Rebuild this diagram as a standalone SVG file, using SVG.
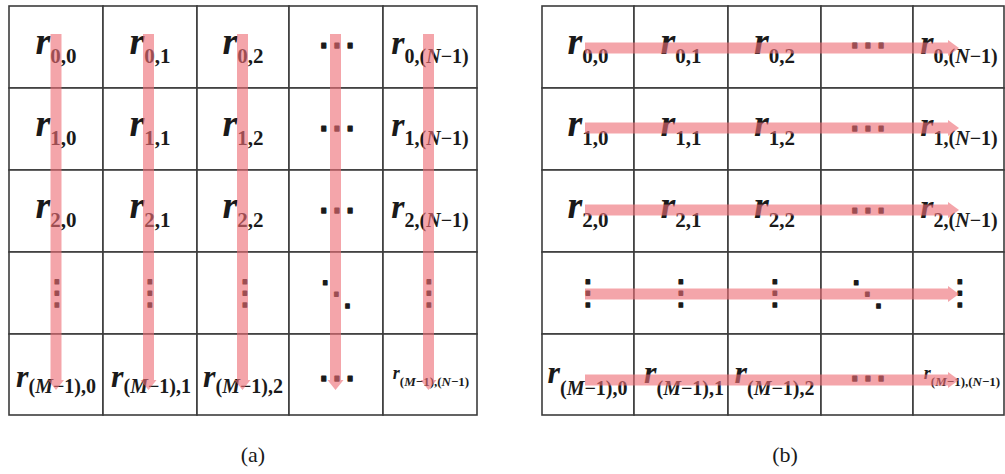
<svg xmlns="http://www.w3.org/2000/svg" width="1005" height="474" viewBox="0 0 1005 474">
<style>
.bg{fill:#ffffff}
.cell{fill:#ffffff;stroke:#3c3c3c;stroke-width:1.6}
.lbl{font-family:"Liberation Serif","Times New Roman",serif;fill:#1a1a1a;text-anchor:middle}
.r{font-size:38px;font-weight:bold;font-style:italic}
.rn{font-size:34px;font-weight:bold;font-style:italic}
.rm{font-size:32px;font-weight:bold;font-style:italic}
.rs{font-size:18px;font-weight:bold;font-style:italic}
.s{font-size:21px;font-weight:bold;font-style:normal}
.sn{font-size:20px;font-weight:bold;font-style:normal}
.ss{font-size:13px;font-weight:bold;font-style:normal}
.v{font-style:italic}
.dots{font-family:"DejaVu Sans",sans-serif;font-size:39px;fill:#1a1a1a;stroke:#1a1a1a;stroke-width:1.3;stroke-linejoin:round;text-anchor:middle}
.vd{font-size:34px}
.cap{font-family:"Liberation Serif","Times New Roman",serif;font-size:22px;fill:#1a1a1a;text-anchor:middle}
.bar{fill:#ee6d76;opacity:0.62}
</style>
<rect class="bg" x="0" y="0" width="1005" height="474"/>

<g id="panel-a">
<g id="a-0-0"><rect class="cell" x="9" y="6" width="94" height="82"/><text class="lbl" x="56" y="54"><tspan class="r">r</tspan><tspan class="s" dy="9">0,0</tspan></text></g>
<g id="a-0-1"><rect class="cell" x="103" y="6" width="94" height="82"/><text class="lbl" x="150" y="54"><tspan class="r">r</tspan><tspan class="s" dy="9">0,1</tspan></text></g>
<g id="a-0-2"><rect class="cell" x="197" y="6" width="92" height="82"/><text class="lbl" x="243" y="54"><tspan class="r">r</tspan><tspan class="s" dy="9">0,2</tspan></text></g>
<g id="a-0-3"><rect class="cell" x="289" y="6" width="94" height="82"/><text class="dots" x="336.5" y="57.5">⋯</text></g>
<g id="a-0-4"><rect class="cell" x="383" y="6" width="94" height="82"/><text class="lbl" x="430" y="54"><tspan class="rn">r</tspan><tspan class="sn" dy="9">0,(<tspan class="v">N</tspan>−1)</tspan></text></g>

<g id="a-1-0"><rect class="cell" x="9" y="88" width="94" height="82"/><text class="lbl" x="56" y="136"><tspan class="r">r</tspan><tspan class="s" dy="9">1,0</tspan></text></g>
<g id="a-1-1"><rect class="cell" x="103" y="88" width="94" height="82"/><text class="lbl" x="150" y="136"><tspan class="r">r</tspan><tspan class="s" dy="9">1,1</tspan></text></g>
<g id="a-1-2"><rect class="cell" x="197" y="88" width="92" height="82"/><text class="lbl" x="243" y="136"><tspan class="r">r</tspan><tspan class="s" dy="9">1,2</tspan></text></g>
<g id="a-1-3"><rect class="cell" x="289" y="88" width="94" height="82"/><text class="dots" x="336.5" y="140.5">⋯</text></g>
<g id="a-1-4"><rect class="cell" x="383" y="88" width="94" height="82"/><text class="lbl" x="430" y="136"><tspan class="rn">r</tspan><tspan class="sn" dy="9">1,(<tspan class="v">N</tspan>−1)</tspan></text></g>

<g id="a-2-0"><rect class="cell" x="9" y="170" width="94" height="82"/><text class="lbl" x="56" y="218"><tspan class="r">r</tspan><tspan class="s" dy="9">2,0</tspan></text></g>
<g id="a-2-1"><rect class="cell" x="103" y="170" width="94" height="82"/><text class="lbl" x="150" y="218"><tspan class="r">r</tspan><tspan class="s" dy="9">2,1</tspan></text></g>
<g id="a-2-2"><rect class="cell" x="197" y="170" width="92" height="82"/><text class="lbl" x="243" y="218"><tspan class="r">r</tspan><tspan class="s" dy="9">2,2</tspan></text></g>
<g id="a-2-3"><rect class="cell" x="289" y="170" width="94" height="82"/><text class="dots" x="336.5" y="222.5">⋯</text></g>
<g id="a-2-4"><rect class="cell" x="383" y="170" width="94" height="82"/><text class="lbl" x="430" y="218"><tspan class="rn">r</tspan><tspan class="sn" dy="9">2,(<tspan class="v">N</tspan>−1)</tspan></text></g>

<g id="a-3-0"><rect class="cell" x="9" y="252" width="94" height="82"/><text class="dots vd" x="57" y="304">⋮</text></g>
<g id="a-3-1"><rect class="cell" x="103" y="252" width="94" height="82"/><text class="dots vd" x="150" y="304">⋮</text></g>
<g id="a-3-2"><rect class="cell" x="197" y="252" width="92" height="82"/><text class="dots vd" x="245" y="304">⋮</text></g>
<g id="a-3-3"><rect class="cell" x="289" y="252" width="94" height="82"/><text class="dots vd" x="336.5" y="305">⋱</text></g>
<g id="a-3-4"><rect class="cell" x="383" y="252" width="94" height="82"/><text class="dots vd" x="429" y="304">⋮</text></g>

<g id="a-4-0"><rect class="cell" x="9" y="334" width="94" height="81"/><text class="lbl" x="56" y="387"><tspan class="rm">r</tspan><tspan class="sn" dy="6">(<tspan class="v">M</tspan>−1),0</tspan></text></g>
<g id="a-4-1"><rect class="cell" x="103" y="334" width="94" height="81"/><text class="lbl" x="151" y="387"><tspan class="rm">r</tspan><tspan class="sn" dy="6">(<tspan class="v">M</tspan>−1),1</tspan></text></g>
<g id="a-4-2"><rect class="cell" x="197" y="334" width="92" height="81"/><text class="lbl" x="243" y="387"><tspan class="rm">r</tspan><tspan class="sn" dy="6">(<tspan class="v">M</tspan>−1),2</tspan></text></g>
<g id="a-4-3"><rect class="cell" x="289" y="334" width="94" height="81"/><text class="dots" x="336.5" y="390.5">⋯</text></g>
<g id="a-4-4"><rect class="cell" x="383" y="334" width="94" height="81"/><text class="lbl" x="431" y="379"><tspan class="rs">r</tspan><tspan class="ss" dy="7">(<tspan class="v">M</tspan>−1),(<tspan class="v">N</tspan>−1)</tspan></text></g>
</g>

<g id="panel-b">
<g id="b-0-0"><rect class="cell" x="542" y="6" width="92" height="82"/><text class="lbl" x="588" y="54"><tspan class="r">r</tspan><tspan class="s" dy="9">0,0</tspan></text></g>
<g id="b-0-1"><rect class="cell" x="634" y="6" width="94" height="82"/><text class="lbl" x="681" y="54"><tspan class="r">r</tspan><tspan class="s" dy="9">0,1</tspan></text></g>
<g id="b-0-2"><rect class="cell" x="728" y="6" width="93" height="82"/><text class="lbl" x="774.5" y="54"><tspan class="r">r</tspan><tspan class="s" dy="9">0,2</tspan></text></g>
<g id="b-0-3"><rect class="cell" x="821" y="6" width="92" height="82"/><text class="dots" x="867.5" y="57.5">⋯</text></g>
<g id="b-0-4"><rect class="cell" x="913" y="6" width="91" height="82"/><text class="lbl" x="959" y="54"><tspan class="rn">r</tspan><tspan class="sn" dy="9">0,(<tspan class="v">N</tspan>−1)</tspan></text></g>

<g id="b-1-0"><rect class="cell" x="542" y="88" width="92" height="82"/><text class="lbl" x="588" y="136"><tspan class="r">r</tspan><tspan class="s" dy="9">1,0</tspan></text></g>
<g id="b-1-1"><rect class="cell" x="634" y="88" width="94" height="82"/><text class="lbl" x="681" y="136"><tspan class="r">r</tspan><tspan class="s" dy="9">1,1</tspan></text></g>
<g id="b-1-2"><rect class="cell" x="728" y="88" width="93" height="82"/><text class="lbl" x="774.5" y="136"><tspan class="r">r</tspan><tspan class="s" dy="9">1,2</tspan></text></g>
<g id="b-1-3"><rect class="cell" x="821" y="88" width="92" height="82"/><text class="dots" x="867.5" y="140.5">⋯</text></g>
<g id="b-1-4"><rect class="cell" x="913" y="88" width="91" height="82"/><text class="lbl" x="959" y="136"><tspan class="rn">r</tspan><tspan class="sn" dy="9">1,(<tspan class="v">N</tspan>−1)</tspan></text></g>

<g id="b-2-0"><rect class="cell" x="542" y="170" width="92" height="82"/><text class="lbl" x="588" y="218"><tspan class="r">r</tspan><tspan class="s" dy="9">2,0</tspan></text></g>
<g id="b-2-1"><rect class="cell" x="634" y="170" width="94" height="82"/><text class="lbl" x="681" y="218"><tspan class="r">r</tspan><tspan class="s" dy="9">2,1</tspan></text></g>
<g id="b-2-2"><rect class="cell" x="728" y="170" width="93" height="82"/><text class="lbl" x="774.5" y="218"><tspan class="r">r</tspan><tspan class="s" dy="9">2,2</tspan></text></g>
<g id="b-2-3"><rect class="cell" x="821" y="170" width="92" height="82"/><text class="dots" x="867.5" y="222.5">⋯</text></g>
<g id="b-2-4"><rect class="cell" x="913" y="170" width="91" height="82"/><text class="lbl" x="959" y="218"><tspan class="rn">r</tspan><tspan class="sn" dy="9">2,(<tspan class="v">N</tspan>−1)</tspan></text></g>

<g id="b-3-0"><rect class="cell" x="542" y="252" width="92" height="82"/><text class="dots vd" x="588" y="304">⋮</text></g>
<g id="b-3-1"><rect class="cell" x="634" y="252" width="94" height="82"/><text class="dots vd" x="681" y="304">⋮</text></g>
<g id="b-3-2"><rect class="cell" x="728" y="252" width="93" height="82"/><text class="dots vd" x="775" y="304">⋮</text></g>
<g id="b-3-3"><rect class="cell" x="821" y="252" width="92" height="82"/><text class="dots vd" x="867.5" y="305">⋱</text></g>
<g id="b-3-4"><rect class="cell" x="913" y="252" width="91" height="82"/><text class="dots vd" x="960" y="304">⋮</text></g>

<g id="b-4-0"><rect class="cell" x="542" y="334" width="92" height="81"/><text class="lbl" x="587.5" y="383"><tspan class="rm">r</tspan><tspan class="sn" dy="12">(<tspan class="v">M</tspan>−1),0</tspan></text></g>
<g id="b-4-1"><rect class="cell" x="634" y="334" width="94" height="81"/><text class="lbl" x="684" y="383"><tspan class="rm">r</tspan><tspan class="sn" dy="12">(<tspan class="v">M</tspan>−1),1</tspan></text></g>
<g id="b-4-2"><rect class="cell" x="728" y="334" width="93" height="81"/><text class="lbl" x="774.5" y="383"><tspan class="rm">r</tspan><tspan class="sn" dy="12">(<tspan class="v">M</tspan>−1),2</tspan></text></g>
<g id="b-4-3"><rect class="cell" x="821" y="334" width="92" height="81"/><text class="dots" x="867.5" y="390.5">⋯</text></g>
<g id="b-4-4"><rect class="cell" x="913" y="334" width="91" height="81"/><text class="lbl" x="962" y="379"><tspan class="rs">r</tspan><tspan class="ss" dy="7">(<tspan class="v">M</tspan>−1),(<tspan class="v">N</tspan>−1)</tspan></text></g>
</g>

<g id="connectors">
<path class="bar" d="M50.5 34V380H48L56 390L64 380H61.5V34Z"/>
<path class="bar" d="M143 34V380H140.5L148.5 390L156.5 380H154V34Z"/>
<path class="bar" d="M237 34V380H234.5L242.5 390L250.5 380H248V34Z"/>
<path class="bar" d="M330 34V380H327.5L335.5 390L343.5 380H341V34Z"/>
<path class="bar" d="M423 34V380H420.5L428.5 390L436.5 380H434V34Z"/>
<path class="bar" d="M585 42.5H948V40L959 48L948 56V53.5H585Z"/>
<path class="bar" d="M585 122.5H948V120L959 128L948 136V133.5H585Z"/>
<path class="bar" d="M585 204.5H948V202L959 210L948 218V215.5H585Z"/>
<path class="bar" d="M585 288.5H948V286L959 294L948 302V299.5H585Z"/>
<path class="bar" d="M585 374.5H948V372L959 380L948 388V385.5H585Z"/>
</g>

<text id="cap-a" class="cap" x="253" y="462">(a)</text>
<text id="cap-b" class="cap" x="785" y="462">(b)</text>
</svg>
